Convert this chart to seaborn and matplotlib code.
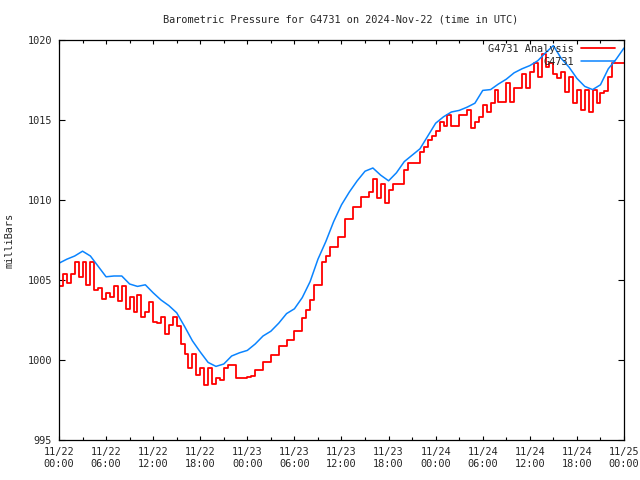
import pandas as pd
import matplotlib
matplotlib.use('Agg')
import matplotlib.pyplot as plt
import matplotlib.dates as mdates
import seaborn as sns

# observed pressure (G4731), hourly from 2024-11-22 00:00 UTC
obs_mb = [1006.05, 1006.3, 1006.5, 1006.8, 1006.5, 1005.85, 1005.2, 1005.25, 1005.25, 1004.75,
          1004.6, 1004.7, 1004.2, 1003.75, 1003.4, 1002.95, 1002.1, 1001.2, 1000.5, 999.85,
          999.6, 999.75, 1000.25, 1000.45, 1000.6, 1001.0, 1001.5, 1001.8, 1002.3, 1002.9,
          1003.2, 1003.9, 1004.9, 1006.3, 1007.4, 1008.65, 1009.7, 1010.5, 1011.2, 1011.8,
          1012.0, 1011.55, 1011.2, 1011.7, 1012.4, 1012.8, 1013.2, 1014.0, 1014.8, 1015.2,
          1015.5, 1015.6, 1015.8, 1016.05, 1016.85, 1016.9, 1017.25, 1017.55, 1017.95, 1018.2,
          1018.4, 1018.7, 1019.2, 1019.65, 1018.85, 1018.3, 1017.6, 1017.1, 1016.9, 1017.2,
          1018.2, 1018.8, 1019.5]

# analysis pressure, every 30 minutes (drawn as steps)
ana_mb = [1004.6, 1005.35, 1004.8, 1005.35, 1006.15, 1005.2, 1006.15, 1004.7, 1006.1, 1004.4,
          1004.5, 1003.8, 1004.2, 1003.95, 1004.6, 1003.7, 1004.6, 1003.2, 1003.95, 1003.0,
          1004.05, 1002.7, 1003.0, 1003.65, 1002.4, 1002.3, 1002.7, 1001.65, 1002.2, 1002.7,
          1002.1, 1001.0, 1000.4, 999.5, 1000.4, 999.05, 999.5, 998.45, 999.5, 998.5,
          998.85, 998.75, 999.5, 999.7, 999.7, 998.85, 998.85, 998.9, 998.95, 999.0,
          999.4, 999.4, 999.9, 999.9, 1000.3, 1000.3, 1000.85, 1000.85, 1001.25, 1001.25,
          1001.8, 1001.8, 1002.6, 1003.1, 1003.75, 1004.7, 1004.7, 1006.15, 1006.5, 1007.06,
          1007.06, 1007.7, 1007.7, 1008.8, 1008.8, 1009.56, 1009.56, 1010.2, 1010.2, 1010.5,
          1011.3, 1010.1, 1011.0, 1009.8, 1010.6, 1011.0, 1011.0, 1011.0, 1011.9, 1012.3,
          1012.3, 1012.3, 1013.0, 1013.3, 1013.75, 1014.0, 1014.3, 1014.9, 1014.6, 1015.3,
          1014.6, 1014.6, 1015.3, 1015.3, 1015.6, 1014.5, 1014.9, 1015.2, 1015.95, 1015.5,
          1016.05, 1016.9, 1016.15, 1016.15, 1017.3, 1016.15, 1017.0, 1017.0, 1017.9, 1017.0,
          1018.0, 1018.55, 1017.7, 1019.15, 1018.3, 1018.55, 1017.9, 1017.6, 1018.0, 1016.75,
          1017.7, 1016.05, 1016.9, 1015.6, 1016.9, 1015.5, 1016.9, 1016.05, 1016.7, 1016.8,
          1017.7, 1018.55, 1018.55, 1018.55, 1018.55]

obs = pd.DataFrame({'time': pd.date_range('2024-11-22', periods=len(obs_mb), freq='h'),
                    'mb': obs_mb})
ana = pd.DataFrame({'time': pd.date_range('2024-11-22', periods=len(ana_mb), freq='30min'),
                    'mb': ana_mb})

sns.set_style('ticks')
plt.rcParams['font.family'] = ['DejaVu Sans Mono']
fs = 7.4

fig = plt.figure(figsize=(6.4, 4.8), dpi=100)
ax = fig.add_axes([59 / 640, 40 / 480, 565 / 640, 400 / 480])

sns.lineplot(data=ana, x='time', y='mb', ax=ax, color='#ff0000', linewidth=1.3,
             drawstyle='steps-post', label='G4731 Analysis')
sns.lineplot(data=obs, x='time', y='mb', ax=ax, color='#0a84ff', linewidth=1.1,
             label='G4731')

ax.set_xlim(pd.Timestamp('2024-11-22'), pd.Timestamp('2024-11-25'))
ax.set_ylim(995, 1020)
ax.set_yticks([995, 1000, 1005, 1010, 1015, 1020])
ax.xaxis.set_major_locator(mdates.HourLocator(byhour=[0, 6, 12, 18]))
ax.xaxis.set_minor_locator(mdates.HourLocator(byhour=[3, 9, 15, 21]))
ax.xaxis.set_major_formatter(mdates.DateFormatter('%m/%d\n%H:%M'))

ax.tick_params(axis='both', which='both', direction='in', top=True, right=True,
               labelsize=fs, color='black', width=0.8)
ax.tick_params(axis='x', which='major', length=3, pad=5)
ax.tick_params(axis='x', which='minor', length=2.5)
ax.tick_params(axis='y', which='major', length=4, pad=5)
for s in ax.spines.values():
    s.set_visible(True)
    s.set_linewidth(0.9)
    s.set_color('black')

ax.set_xlabel('')
ax.set_ylabel('milliBars', fontsize=fs)
ax.yaxis.set_label_coords(-44 / 565, 0.5)

fig.text(341 / 640, 1 - 20 / 480, 'Barometric Pressure for G4731 on 2024-Nov-22 (time in UTC)',
         ha='center', va='center', fontsize=fs)

ax.legend(loc='upper right', bbox_to_anchor=(0.984, 0.99), frameon=False, markerfirst=False,
          fontsize=fs, handlelength=3.3, handletextpad=0.7, labelspacing=0.3,
          borderpad=0, borderaxespad=0)

fig.savefig('out.png', dpi=100)
